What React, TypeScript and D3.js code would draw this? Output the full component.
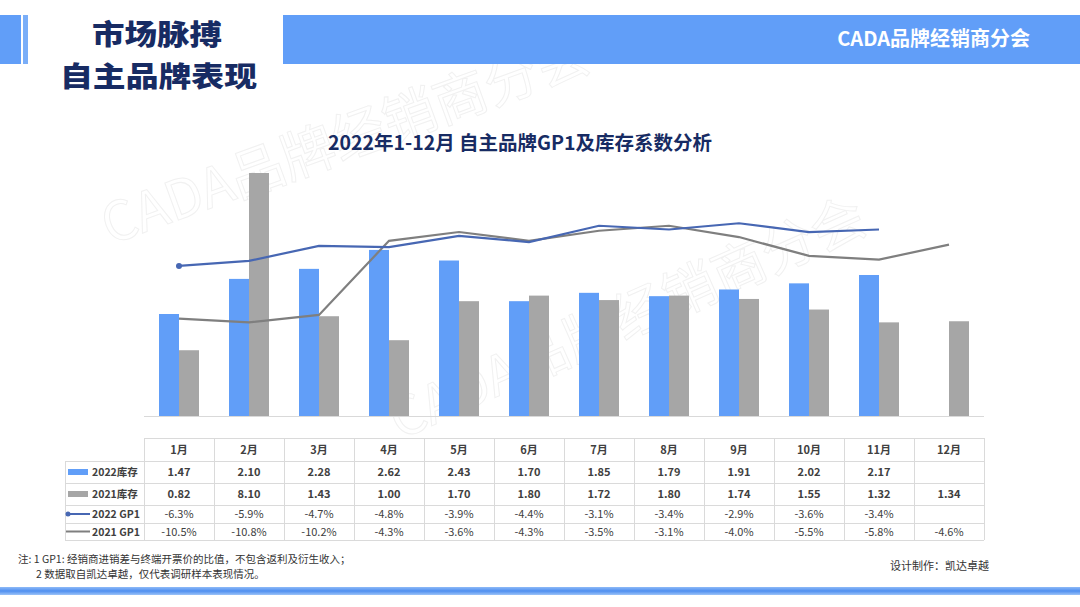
import React from "react";
import * as d3 from "d3";

const months = ["1月", "2月", "3月", "4月", "5月", "6月", "7月", "8月", "9月", "10月", "11月", "12月"];
const stock2022: (number | null)[] = [1.47, 2.1, 2.28, 2.62, 2.43, 1.7, 1.85, 1.79, 1.91, 2.02, 2.17, null];
const stock2021: (number | null)[] = [0.82, 8.1, 1.43, 1.0, 1.7, 1.8, 1.72, 1.8, 1.74, 1.55, 1.32, 1.34];
const gp2022: (number | null)[] = [-6.3, -5.9, -4.7, -4.8, -3.9, -4.4, -3.1, -3.4, -2.9, -3.6, -3.4, null];
const gp2021: (number | null)[] = [-10.5, -10.8, -10.2, -4.3, -3.6, -4.3, -3.5, -3.1, -4.0, -5.5, -5.8, -4.6];

const seriesNames = ["2022库存", "2021库存", "2022 GP1", "2021 GP1"];

const BLUE = "#619ef8";
const GRAY = "#a6a6a6";
const LINE_BLUE = "#4767b3";
const LINE_GRAY = "#7f7f7f";
const NAVY = "#172b63";
const FONT = "'Noto Sans CJK SC', 'Noto Sans', sans-serif";

export default function App() {
  const W = 1080, H = 607;
  const plotLeft = 144, plotRight = 984, plotTop = 173, plotBottom = 416;

  const x = d3.scaleBand<string>().domain(months).range([plotLeft, plotRight]).paddingInner(0).paddingOuter(0);
  const y1 = d3.scaleLinear().domain([-0.36, 4.0]).range([plotBottom, plotTop]).clamp(true);
  const y2 = d3.scaleLinear().domain([-18.25, 1.1]).range([plotBottom, plotTop]);
  const barW = 20;

  const line = d3
    .line<number | null>()
    .defined((d) => d !== null)
    .x((_, i) => (x(months[i]) as number) + x.bandwidth() / 2)
    .y((d) => y2(d as number));

  const rowsY = [438, 461, 483, 505, 523, 540];
  const tableLeft = 65;

  const fmtStock = (v: number | null) => (v === null ? "" : v.toFixed(2));
  const fmtGp = (v: number | null) => (v === null ? "" : v.toFixed(1) + "%");
  const rows: string[][] = [
    stock2022.map(fmtStock),
    stock2021.map(fmtStock),
    gp2022.map(fmtGp),
    gp2021.map(fmtGp),
  ];

  const wm = "CADA品牌经销商分会";

  return (
    <svg width={W} height={H} viewBox={`0 0 ${W} ${H}`} style={{ position: "absolute", left: 0, top: 0, background: "#fff" }} fontFamily={FONT}>
      <defs>
        <linearGradient id="bottomGrad" x1="0" x2="0" y1="0" y2="1">
          <stop offset="0" stopColor="#8fbaf7" />
          <stop offset="0.5" stopColor="#4f8ff0" />
          <stop offset="1" stopColor="#9cc3f8" />
        </linearGradient>
      </defs>
      <rect x={0} y={0} width={W} height={H} fill="#fff" />

      {/* watermarks */}
      <g fill="none" stroke="#f1f1f1" strokeWidth={1} fontSize={54} fontFamily={FONT}>
        <text transform="translate(110,245) rotate(-20)">{wm}</text>
        <text transform="translate(400,440) rotate(-24)">{wm}</text>
      </g>

      {/* header */}
      <rect x={0} y={15} width={21} height={49} fill={BLUE} />
      <rect x={23} y={15} width={5} height={49} fill="#7aaef8" />
      <rect x={283} y={15} width={797} height={49} fill={BLUE} />
      <text x={1030} y={46} textAnchor="end" fill="#fff" fontSize={20} fontWeight={700}>
        CADA品牌经销商分会
      </text>
      <text x={92} y={45} fill={NAVY} fontWeight={900} fontSize={28.5} textLength={130} lengthAdjust="spacingAndGlyphs">
        市场脉搏
      </text>
      <text x={60} y={87} fill={NAVY} fontWeight={900} fontSize={28.5} textLength={197} lengthAdjust="spacingAndGlyphs">
        自主品牌表现
      </text>

      {/* chart title */}
      <text x={520} y={150} textAnchor="middle" fill={NAVY} fontSize={19.5} fontWeight={700}>
        2022年1-12月 自主品牌GP1及库存系数分析
      </text>

      {/* bars */}
      {months.map((m, i) => {
        const cx = (x(m) as number) + x.bandwidth() / 2;
        const a = stock2022[i];
        const b = stock2021[i];
        return (
          <g key={m}>
            {a !== null && <rect x={cx - barW} y={y1(a)} width={barW} height={plotBottom - y1(a)} fill={BLUE} />}
            {b !== null && <rect x={cx} y={y1(b)} width={barW} height={plotBottom - y1(b)} fill={GRAY} />}
          </g>
        );
      })}
      <line x1={plotLeft} x2={plotRight} y1={plotBottom + 0.5} y2={plotBottom + 0.5} stroke="#d9d9d9" />

      {/* lines */}
      <path d={line(gp2021) || ""} fill="none" stroke={LINE_GRAY} strokeWidth={2.2} />
      <path d={line(gp2022) || ""} fill="none" stroke={LINE_BLUE} strokeWidth={2.2} />
      <circle cx={(x(months[0]) as number) + x.bandwidth() / 2} cy={y2(gp2022[0] as number)} r={3} fill={LINE_BLUE} />

      {/* table */}
      <g stroke="#dadada" strokeWidth={1} shapeRendering="crispEdges">
        <line x1={plotLeft} x2={plotRight} y1={rowsY[0]} y2={rowsY[0]} />
        {rowsY.slice(1).map((yy, k) => (
          <line key={k} x1={tableLeft} x2={plotRight} y1={yy} y2={yy} />
        ))}
        <line x1={tableLeft} x2={tableLeft} y1={rowsY[1]} y2={rowsY[5]} />
        {months.map((m) => (
          <line key={m} x1={x(m) as number} x2={x(m) as number} y1={rowsY[0]} y2={rowsY[5]} />
        ))}
        <line x1={plotRight} x2={plotRight} y1={rowsY[0]} y2={rowsY[5]} />
      </g>
      {months.map((m) => (
        <text key={m} x={(x(m) as number) + x.bandwidth() / 2} y={(rowsY[0] + rowsY[1]) / 2 + 4} textAnchor="middle" fontSize={11} fontWeight={700} fill="#404040">
          {m}
        </text>
      ))}
      {rows.map((r, ri) =>
        r.map((v, i) => (
          <text
            key={ri + "-" + i}
            x={(x(months[i]) as number) + x.bandwidth() / 2}
            y={(rowsY[ri + 1] + rowsY[ri + 2]) / 2 + 4}
            textAnchor="middle"
            fontSize={11}
            fontWeight={ri < 2 ? 600 : 400}
            fill="#404040"
          >
            {v}
          </text>
        ))
      )}
      {/* legend keys in table */}
      {seriesNames.map((s, ri) => {
        const cy = (rowsY[ri + 1] + rowsY[ri + 2]) / 2;
        return (
          <g key={s}>
            {ri === 0 && <rect x={68} y={cy - 3} width={20} height={6} fill={BLUE} />}
            {ri === 1 && <rect x={68} y={cy - 3} width={20} height={6} fill={GRAY} />}
            {ri === 2 && (
              <g>
                <line x1={68} x2={90} y1={cy} y2={cy} stroke={LINE_BLUE} strokeWidth={2} />
                <circle cx={68} cy={cy} r={2.5} fill={LINE_BLUE} />
              </g>
            )}
            {ri === 3 && <line x1={66} x2={90} y1={cy} y2={cy} stroke={LINE_GRAY} strokeWidth={2} />}
            <text x={92} y={cy + 4} fontSize={10.5} fontWeight={700} fill="#404040">
              {s}
            </text>
          </g>
        );
      })}

      {/* footer */}
      <text x={18} y={563} fontSize={10.5} fill="#333">
        注: 1 GP1: 经销商进销差与终端开票价的比值，不包含返利及衍生收入；
      </text>
      <text x={36} y={578} fontSize={10.5} fill="#333">
        2 数据取自凯达卓越，仅代表调研样本表现情况。
      </text>
      <text x={890} y={570} fontSize={11} fill="#333">
        设计制作：凯达卓越
      </text>
      <rect x={0} y={587} width={W} height={8} fill="url(#bottomGrad)" />
    </svg>
  );
}
